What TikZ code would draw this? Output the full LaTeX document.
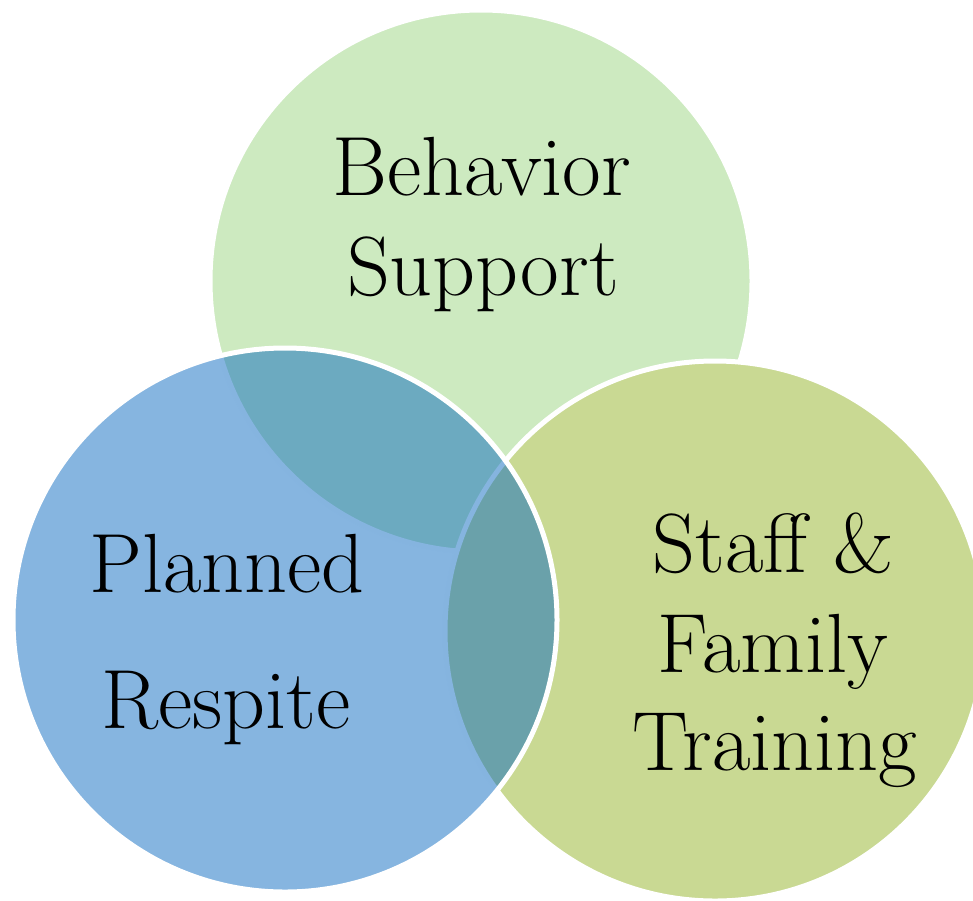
\documentclass[tikz,border=0pt]{standalone}
\definecolor{cgreen}{RGB}{205,234,192}
\definecolor{colive}{RGB}{201,217,147}
\definecolor{cblue}{RGB}{13,107,193}
\begin{document}
\begin{tikzpicture}[x=1pt,y=-1pt,
  circ/.style={circle, inner sep=0pt, outer sep=0pt, draw=white, line width=5pt},
  lbl/.style={anchor=base, inner sep=0pt, text=black, font=\fontsize{84}{96}\selectfont}]
\useasboundingbox (0,0) rectangle (973,900);
\clip (0,0) rectangle (973,900);
\node[circ, fill=cgreen, minimum size=542pt] (green) at (481,281) {};
\node[circ, fill=colive, minimum size=540pt] (olive) at (715,631) {};
\node[circ, fill=cblue, fill opacity=0.5, draw opacity=1, minimum size=544pt] (blue) at (285,620) {};
\node[lbl] (t1) at (482,195) {Behavior};
\node[lbl] (t2) at (483,295) {Support};
\node[lbl] (t3) at (227,592) {Planned};
\node[lbl] (t4) at (226,728) {Respite};
\node[lbl] (t5) at (773,572) {Staff \&};
\node[lbl] (t6) at (773,672) {Family};
\node[lbl] (t7) at (775,770) {Training};
\end{tikzpicture}
\end{document}
